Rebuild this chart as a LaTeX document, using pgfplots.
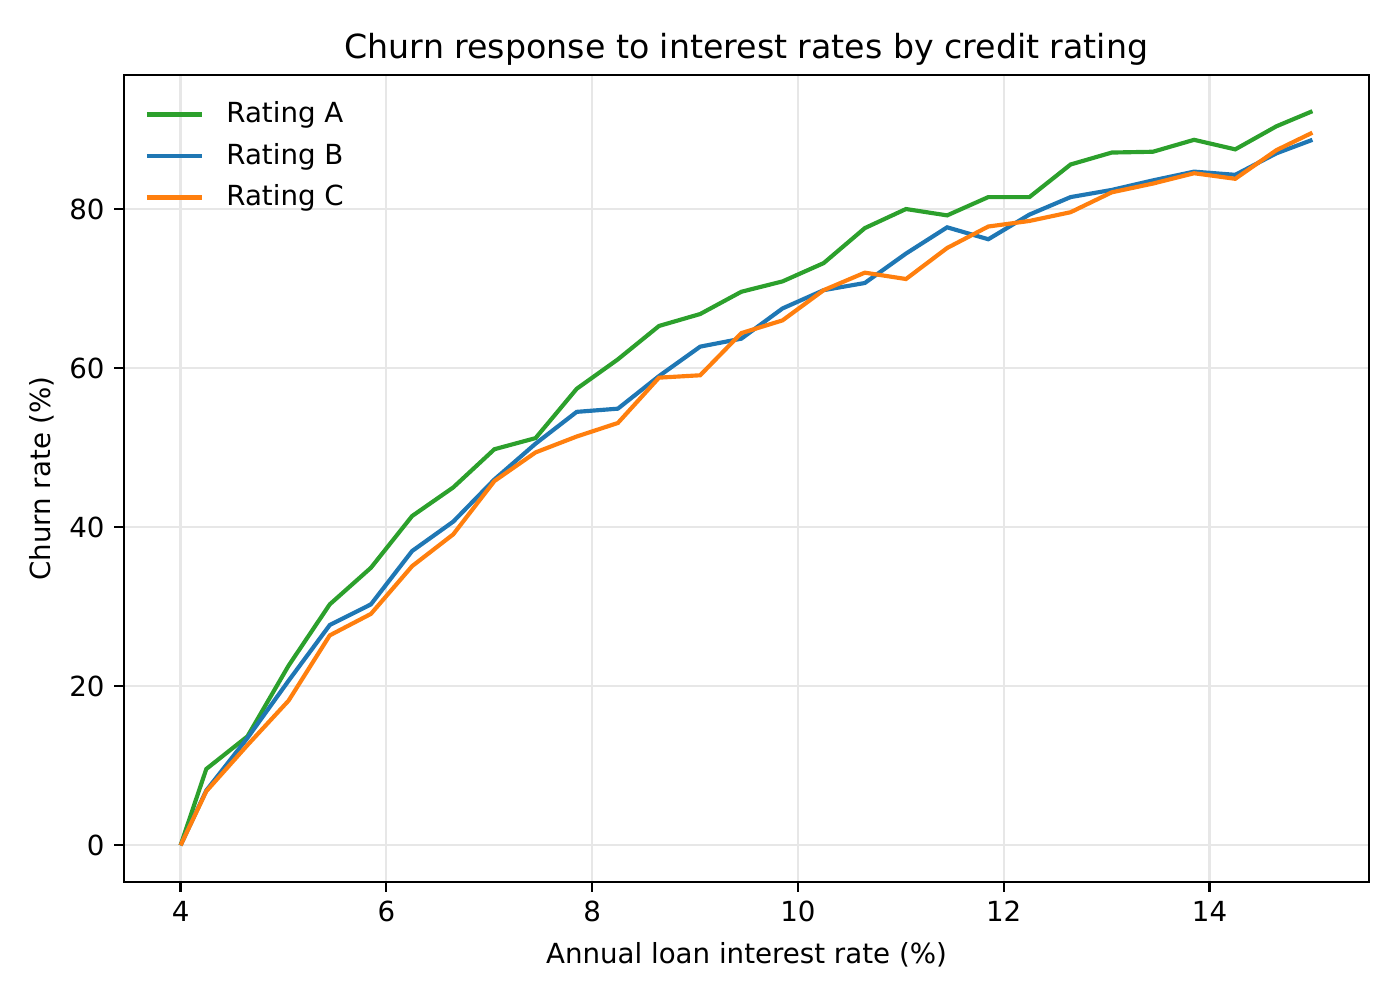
\documentclass[border=0pt]{standalone}
\usepackage{pgfplots}
\pgfplotsset{compat=1.18}
\usepackage{fontspec}
\setmainfont{DejaVu Sans}
\definecolor{tabgreen}{HTML}{2CA02C}
\definecolor{tabblue}{HTML}{1F77B4}
\definecolor{taborange}{HTML}{FF7F0E}
\definecolor{gridc}{HTML}{E7E7E7}
\begin{document}
\begin{tikzpicture}
\useasboundingbox (-44.8pt,-42.6pt) rectangle (461.1pt,318.7pt);
\begin{axis}[
  at={(0,0)}, anchor=south west,
  scale only axis, width=449.9pt, height=291.6pt,
  xmin=3.45, xmax=15.55, ymin=-4.6, ymax=96.85,
  xtick={4,6,8,10,12,14}, ytick={0,20,40,60,80},
  tick align=outside, major tick length=3.5pt,
  tick style={line width=0.8pt, black},
  axis line style={line width=0.8pt},
  xtick pos=bottom, ytick pos=left,
  grid=major, major grid style={gridc, line width=0.8pt},
  /pgf/number format/assume math mode=true,
  tick label style={font=\fontsize{10}{12}\selectfont},
  label style={font=\fontsize{10}{12}\selectfont},
  xlabel={Annual loan interest rate (\%)},
  ylabel={Churn rate (\%)},
  xlabel style={at={(axis description cs:0.5,0)}, anchor=center, yshift=-26.4pt},
  ylabel style={at={(axis description cs:0,0.5)}, anchor=center, yshift=29.6pt},
  title={Churn response to interest rates by credit rating},
  title style={at={(axis description cs:0.5,1)}, anchor=center, yshift=3.2pt, font=\fontsize{12}{14}\selectfont},
  legend cell align=left,
  legend image code/.code={\draw[#1] (0pt,0pt) -- (20pt,0pt); \path (26pt,0pt);},
  legend style={at={(axis description cs:0,1)}, anchor=north west, xshift=4.3pt, yshift=-5.5pt,
    draw=none, fill=none, font=\fontsize{10}{12}\selectfont, row sep=1.9pt,
    nodes={inner sep=2pt}},
]
\addplot[tabgreen, line width=1.5pt] coordinates {
(4,0) (4.25,9.6) (4.65,13.7) (5.05,22.6) (5.45,30.3) (5.85,34.9) (6.25,41.4) (6.65,45.0)
(7.05,49.8) (7.45,51.2) (7.85,57.4) (8.25,61.1) (8.65,65.3) (9.05,66.8) (9.45,69.6)
(9.85,70.9) (10.25,73.2) (10.65,77.6) (11.05,80.0) (11.45,79.2) (11.85,81.5) (12.25,81.5)
(12.65,85.6) (13.05,87.1) (13.45,87.2) (13.85,88.7) (14.25,87.5) (14.65,90.4) (15,92.3)};
\addlegendentry{Rating A}
\addplot[tabblue, line width=1.5pt] coordinates {
(4,0) (4.25,6.9) (4.65,13.5) (5.05,20.7) (5.45,27.7) (5.85,30.3) (6.25,37.0) (6.65,40.7)
(7.05,46.0) (7.45,50.5) (7.85,54.5) (8.25,54.9) (8.65,59.0) (9.05,62.7) (9.45,63.7)
(9.85,67.5) (10.25,69.8) (10.65,70.7) (11.05,74.4) (11.45,77.7) (11.85,76.2) (12.25,79.3)
(12.65,81.5) (13.05,82.4) (13.45,83.6) (13.85,84.7) (14.25,84.3) (14.65,87.0) (15,88.7)};
\addlegendentry{Rating B}
\addplot[taborange, line width=1.5pt] coordinates {
(4,0) (4.25,6.8) (4.65,12.6) (5.05,18.2) (5.45,26.4) (5.85,29.1) (6.25,35.1) (6.65,39.1)
(7.05,45.8) (7.45,49.4) (7.85,51.4) (8.25,53.1) (8.65,58.8) (9.05,59.1) (9.45,64.4)
(9.85,66.0) (10.25,69.8) (10.65,72.0) (11.05,71.2) (11.45,75.1) (11.85,77.8) (12.25,78.5)
(12.65,79.6) (13.05,82.1) (13.45,83.2) (13.85,84.5) (14.25,83.8) (14.65,87.4) (15,89.6)};
\addlegendentry{Rating C}
\end{axis}
\end{tikzpicture}
\end{document}
